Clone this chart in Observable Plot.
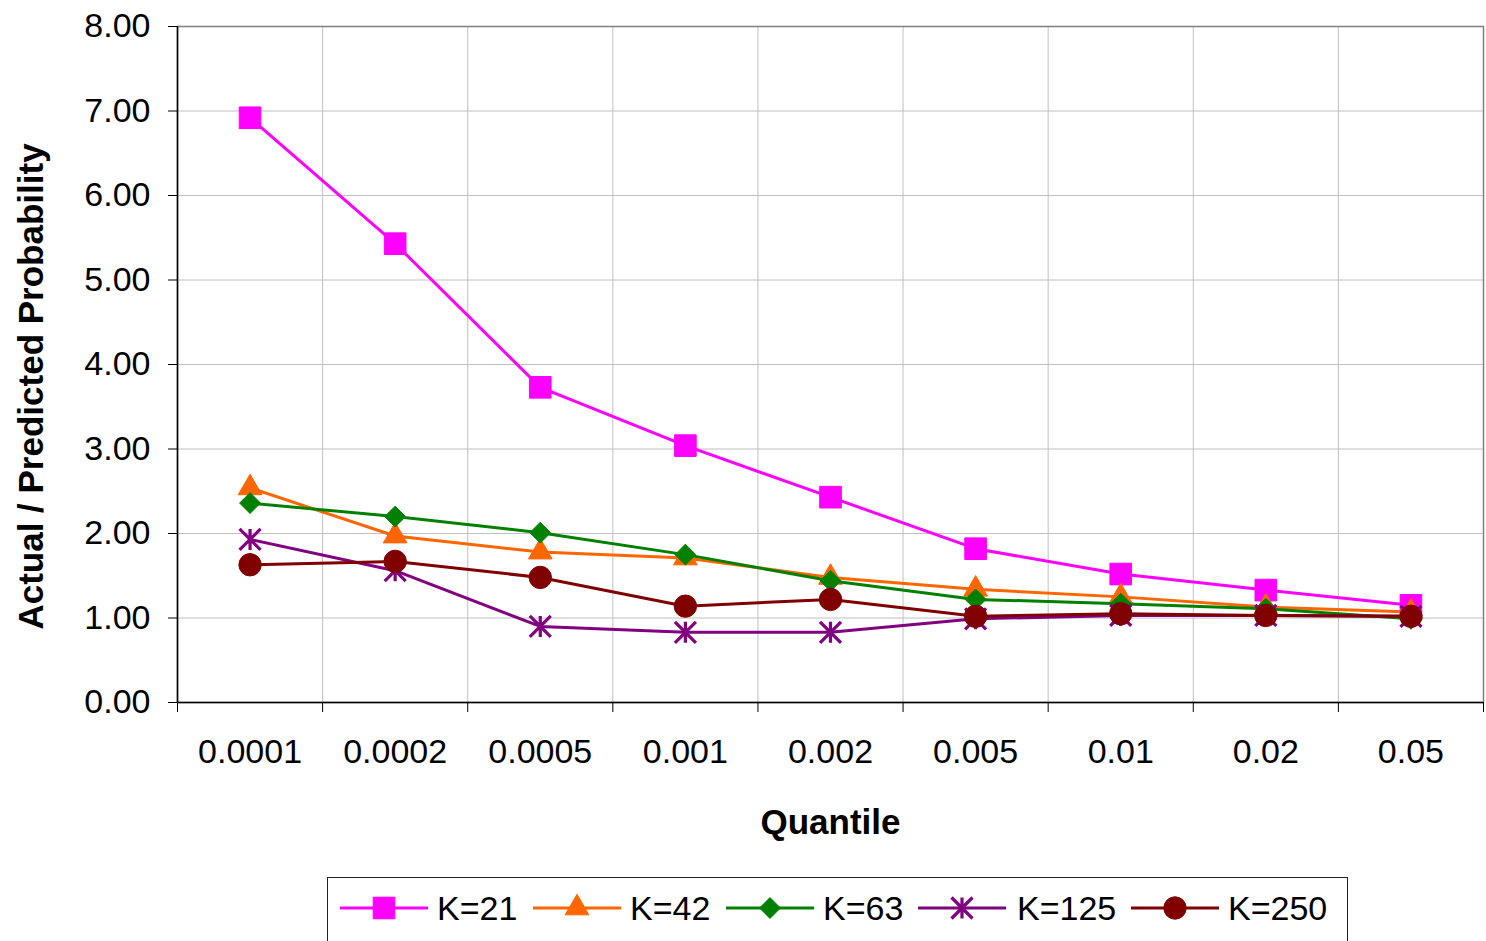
<!DOCTYPE html>
<html><head><meta charset="utf-8">
<script src="https://cdn.jsdelivr.net/npm/d3@7"></script>
<script src="https://cdn.jsdelivr.net/npm/@observablehq/plot@0.6"></script>
<style>
body{margin:0;background:#fff;font-family:"Liberation Sans",Arial,sans-serif;overflow:hidden;}
#chart{position:absolute;left:0;top:0;}
#legend{position:absolute;left:327px;top:877px;width:1021px;height:80px;border:1.5px solid #222;box-sizing:border-box;background:#fff}
#legend svg{position:absolute;left:-1.5px;top:-1.5px;}
</style></head><body>
<div id="chart"></div>
<div id="legend"></div>
<script>
// ---- data ----
const quantiles = ["0.0001","0.0002","0.0005","0.001","0.002","0.005","0.01","0.02","0.05"];
const seriesNames = ["K=21","K=42","K=63","K=125","K=250"];
const k21  = [6.92,5.43,3.73,3.04,2.43,1.82,1.52,1.33,1.15];
const k42  = [2.54,1.97,1.78,1.71,1.48,1.34,1.25,1.13,1.07];
const k63  = [2.36,2.20,2.01,1.75,1.44,1.22,1.17,1.11,0.99];
const k125 = [1.93,1.56,0.90,0.83,0.83,0.99,1.03,1.03,1.02];
const k250 = [1.63,1.67,1.48,1.14,1.22,1.02,1.05,1.03,1.02];
const yTicks = [0,1,2,3,4,5,6,7,8];

const seriesValues = [k21,k42,k63,k125,k250];

// Excel-like star marker: vertical bar plus an X
const starSymbol = {
  draw(context, size) {
    const r = Math.sqrt(size / Math.PI);
    context.moveTo(0, -r); context.lineTo(0, r);
    context.moveTo(-r, -r); context.lineTo(r, r);
    context.moveTo(-r, r); context.lineTo(r, -r);
  }
};

const styles = [
  {color:"#ff00ff", symbol:"square",   d3sym: d3.symbolSquare,   r:12.2, filled:true},
  {color:"#ff6600", symbol:"triangle", d3sym: d3.symbolTriangle, r:8.8,  filled:true},
  {color:"#008000", symbol:"diamond2", d3sym: d3.symbolDiamond2, r:9.4,  filled:true},
  {color:"#800080", symbol:starSymbol, d3sym: starSymbol,        r:10.5, filled:false},
  {color:"#800000", symbol:"circle",   d3sym: d3.symbolCircle,   r:11.2, filled:true}
];

const n = quantiles.length;
const centers = d3.range(n);
const boundaries = d3.range(n + 1).map(i => i - 0.5);
const innerBoundaries = boundaries.slice(1, -1);

const seriesMarks = [];
seriesNames.forEach((name, s) => {
  const rows = seriesValues[s].map((v, i) => ({series: name, i, q: quantiles[i], v}));
  const st = styles[s];
  seriesMarks.push(Plot.line(rows, {x: "i", y: "v", stroke: st.color, strokeWidth: 3}));
  if (st.filled) {
    seriesMarks.push(Plot.dot(rows, {x: "i", y: "v", symbol: st.symbol, r: st.r, fill: st.color, stroke: st.color, strokeWidth: 1}));
  } else {
    seriesMarks.push(Plot.dot(rows, {x: "i", y: "v", symbol: st.symbol, r: st.r, fill: "none", stroke: st.color, strokeWidth: 3.2}));
  }
});

const chart = Plot.plot({
  width: 1486,
  height: 860,
  marginLeft: 177,
  marginRight: 3,
  marginTop: 26,
  marginBottom: 158,
  style: {fontFamily: '"Liberation Sans", Arial, sans-serif', fontSize: "34px", background: "#fff", color: "#000"},
  x: {type: "linear", domain: [-0.5, n - 0.5]},
  y: {domain: [0, 8]},
  marks: [
    Plot.ruleY(yTicks.slice(1, -1), {stroke: "#c0c0c0", strokeWidth: 1}),
    Plot.ruleX(innerBoundaries, {stroke: "#c0c0c0", strokeWidth: 1}),
    Plot.frame({stroke: "#808080", strokeWidth: 1.5}),
    Plot.ruleX([-0.5], {stroke: "#000", strokeWidth: 1.5}),
    Plot.ruleY([0], {stroke: "#000", strokeWidth: 1.5}),
    Plot.axisY({ticks: yTicks, tickFormat: d3.format(".2f"), tickSize: 9, tickPadding: 18, label: null, stroke: "#000", fontSize: 34}),
    Plot.axisX({ticks: boundaries, tickFormat: () => "", tickSize: 10, label: null, stroke: "#000"}),
    Plot.axisX({ticks: centers, tickFormat: i => quantiles[i], tickSize: 0, tickPadding: 36, label: null, fontSize: 34}),
    ...seriesMarks,
    Plot.text(["Quantile"], {text: d => d, frameAnchor: "bottom", textAnchor: "middle", lineAnchor: "bottom", dy: 131, fontSize: 35, fontWeight: "bold"}),
    Plot.text(["Actual / Predicted Probability"], {text: d => d, frameAnchor: "left", textAnchor: "middle", lineAnchor: "middle", dx: -146, dy: 22, rotate: -90, fontSize: 35, fontWeight: "bold"})
  ]
});
document.getElementById("chart").appendChild(chart);

// ---- legend ----
const legendItems = [
  {x0: 340, text: 437},
  {x0: 533, text: 630},
  {x0: 726, text: 823},
  {x0: 918, text: 1017},
  {x0: 1131, text: 1228}
];
const ox = 327, oy = 877;
const svg = d3.select("#legend").append("svg").attr("width", 1025).attr("height", 80);
seriesNames.forEach((name, s) => {
  const st = styles[s];
  const it = legendItems[s];
  const g = svg.append("g");
  const y = 908 - oy;
  g.append("line").attr("x1", it.x0 - ox).attr("x2", it.x0 + 88 - ox).attr("y1", y).attr("y2", y)
    .attr("stroke", st.color).attr("stroke-width", 3);
  const path = d3.symbol(st.d3sym, st.r * st.r * Math.PI)();
  g.append("path").attr("d", path).attr("transform", `translate(${it.x0 + 44 - ox},${y})`)
    .attr("fill", st.filled ? st.color : "none").attr("stroke", st.color).attr("stroke-width", st.filled ? 1 : 3.2);
  g.append("text").attr("x", it.text - ox).attr("y", y).attr("dy", "0.35em")
    .attr("font-size", 34).attr("font-family", '"Liberation Sans", Arial, sans-serif').attr("fill", "#000").text(name);
});
</script>
</body></html>
